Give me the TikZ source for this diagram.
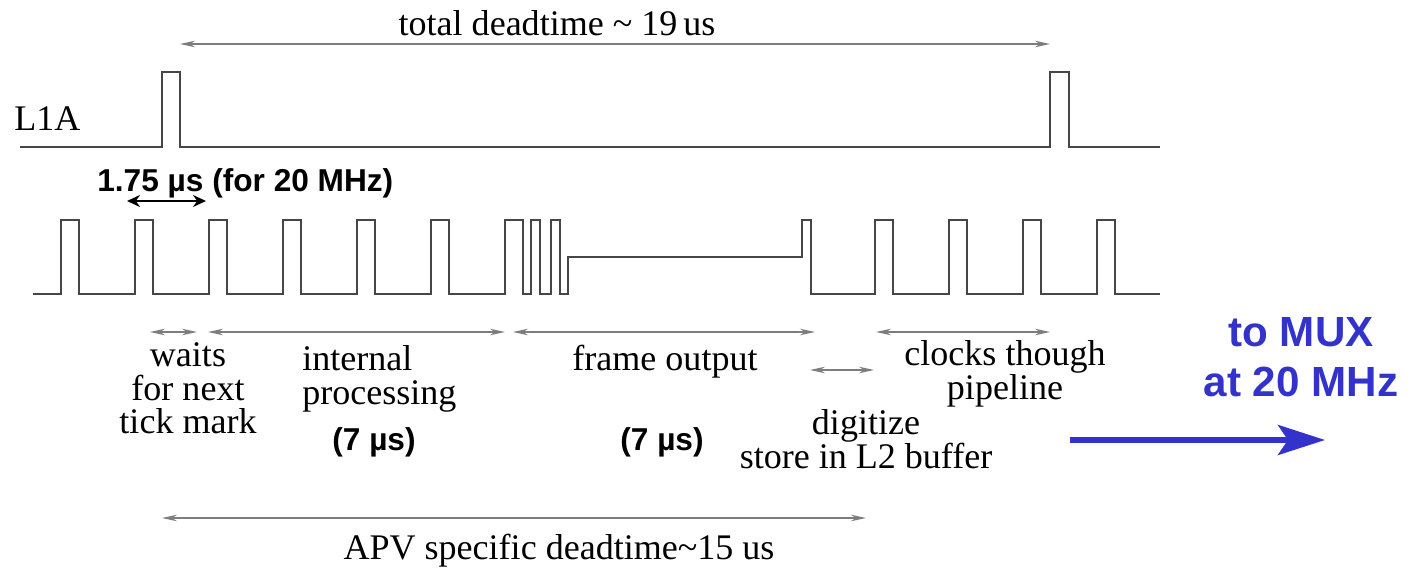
\documentclass[tikz,border=0pt]{standalone}
\usepackage{fontspec}
\setmainfont{Liberation Serif}
\newfontfamily\headfont{Liberation Sans}
\usepackage{tikz}
\usetikzlibrary{arrows.meta,positioning}
\usepackage{xcolor}
\definecolor{muxblue}{RGB}{51,51,204}
\definecolor{wavegray}{RGB}{70,70,70}
\definecolor{dimgray}{RGB}{125,125,125}
\tikzset{
  wave/.style    ={draw=wavegray, line width=0.4mm, line join=miter},
  dimspan/.style ={{Stealth[length=3mm,width=1.3mm]}-{Stealth[length=3mm,width=1.3mm]},
                   draw=dimgray, line width=0.3mm},              % Zeitspannen
  periodspan/.style={{Stealth[length=2.6mm,width=2.4mm]}-{Stealth[length=2.6mm,width=2.4mm]},
                   draw=black, line width=0.5mm},
  lbl/.style     ={font=\fontsize{20.5}{18}\selectfont, inner sep=0pt, align=center},
  blbl/.style    ={font=\headfont\bfseries\fontsize{18}{20}\selectfont, inner sep=0pt},
  muxlbl/.style  ={font=\headfont\bfseries\fontsize{24}{28.5}\selectfont, text=muxblue,
                   inner sep=0pt, align=center},
  muxflow/.style ={-{Stealth[length=9.4mm,width=6mm,inset=2mm]}, draw=muxblue, line width=1.1mm},
}

\begin{document}
\begin{tikzpicture}[x=0.2mm, y=-0.2mm]
  \useasboundingbox (0,0) rectangle (1410,570);
  % L1A
  \draw[wave] (20,147) -- (162,147) -- (162,72) -- (180,72) -- (180,147)
              -- (1050,147) -- (1050,72) -- (1069,72) -- (1069,147) -- (1160,147);
  % Takt
  \draw[wave] (33,294) foreach \r in {61,135,...,505} { -- (\r,294) -- (\r,220) -- ++(18,0) -- ++(0,74) }
              -- (531,294) -- (531,220) -- (540,220) -- (540,294)
              -- (551,294) -- (551,220) -- (560,220) -- (560,294)
              -- (568,294) -- (568,257) -- (802,257) -- (802,220) -- (811,220) -- (811,294)
              foreach \r in {875,949,1023,1097} { -- (\r,294) -- (\r,220) -- ++(18,0) -- ++(0,74) }
              -- (1160,294);

  % base = Grundlinie der letzten Zeile
  \node[lbl, anchor=base]       (total)    at (557,36)   {total deadtime \textasciitilde\ 19\,us};
  \node[lbl, anchor=base west]  (l1a)      at (14,131)   {L1A};
  \node[blbl, anchor=base west] (period)   at (97,192)   {1.75 µs (for 20 MHz)};
  \node[lbl, anchor=base, font=\fontsize{20.5}{19.2}\selectfont]
                                (waits)    at (188,434)  {waits\\for next\\tick mark};
  \node[lbl, anchor=base west, align=left, font=\fontsize{20.5}{19.5}\selectfont]
                                (intproc)  at (302,405)  {internal\\processing};
  \node[blbl, anchor=base]      (intdur)   at (374,451)  {(7 µs)};
  \node[lbl, anchor=base]       (frame)    at (665,371)  {frame output};
  \node[blbl, anchor=base]      (framedur) at (662,451)  {(7 µs)};
  \node[lbl, anchor=base, font=\fontsize{20.5}{18.5}\selectfont]
                                (digit)    at (866,469)  {digitize\\store in L2 buffer};
  \node[lbl, anchor=base, font=\fontsize{20.5}{16}\selectfont]
                                (clocks)   at (1005,400) {clocks though\\pipeline};
  \node[muxlbl, anchor=base]    (mux)      at (1301,397) {to MUX\\at 20 MHz};
  \node[lbl, anchor=base]       (apv)      at (559,560)  {APV specific deadtime\textasciitilde 15 us};

  \coordinate (totL) at (180,44);   \coordinate (totR) at (1050,44);
  \coordinate (perL) at (127,201);  \coordinate (perR) at (206,201);
  \coordinate (waitL) at (150,332); \coordinate (waitR) at (197,332);
  \coordinate (intL) at (208,332);  \coordinate (intR) at (505,332);
  \coordinate (frmL) at (513,332);  \coordinate (frmR) at (815,332);
  \coordinate (digL) at (810,370);  \coordinate (digR) at (874,370);
  \coordinate (clkL) at (876,332);  \coordinate (clkR) at (1050,332);
  \coordinate (apvL) at (162,518);  \coordinate (apvR) at (866,518);
  \coordinate (muxL) at (1070,440); \coordinate (muxR) at (1325,440);

  \draw[dimspan] (totL) -- (totR);
  \draw[periodspan] (perL) -- (perR);
  \draw[dimspan] (waitL) -- (waitR);
  \draw[dimspan] (intL) -- (intR);
  \draw[dimspan] (frmL) -- (frmR);
  \draw[dimspan] (digL) -- (digR);
  \draw[dimspan] (clkL) -- (clkR);
  \draw[dimspan] (apvL) -- (apvR);
  \draw[muxflow] (muxL) -- (muxR);
\end{tikzpicture}
\end{document}
